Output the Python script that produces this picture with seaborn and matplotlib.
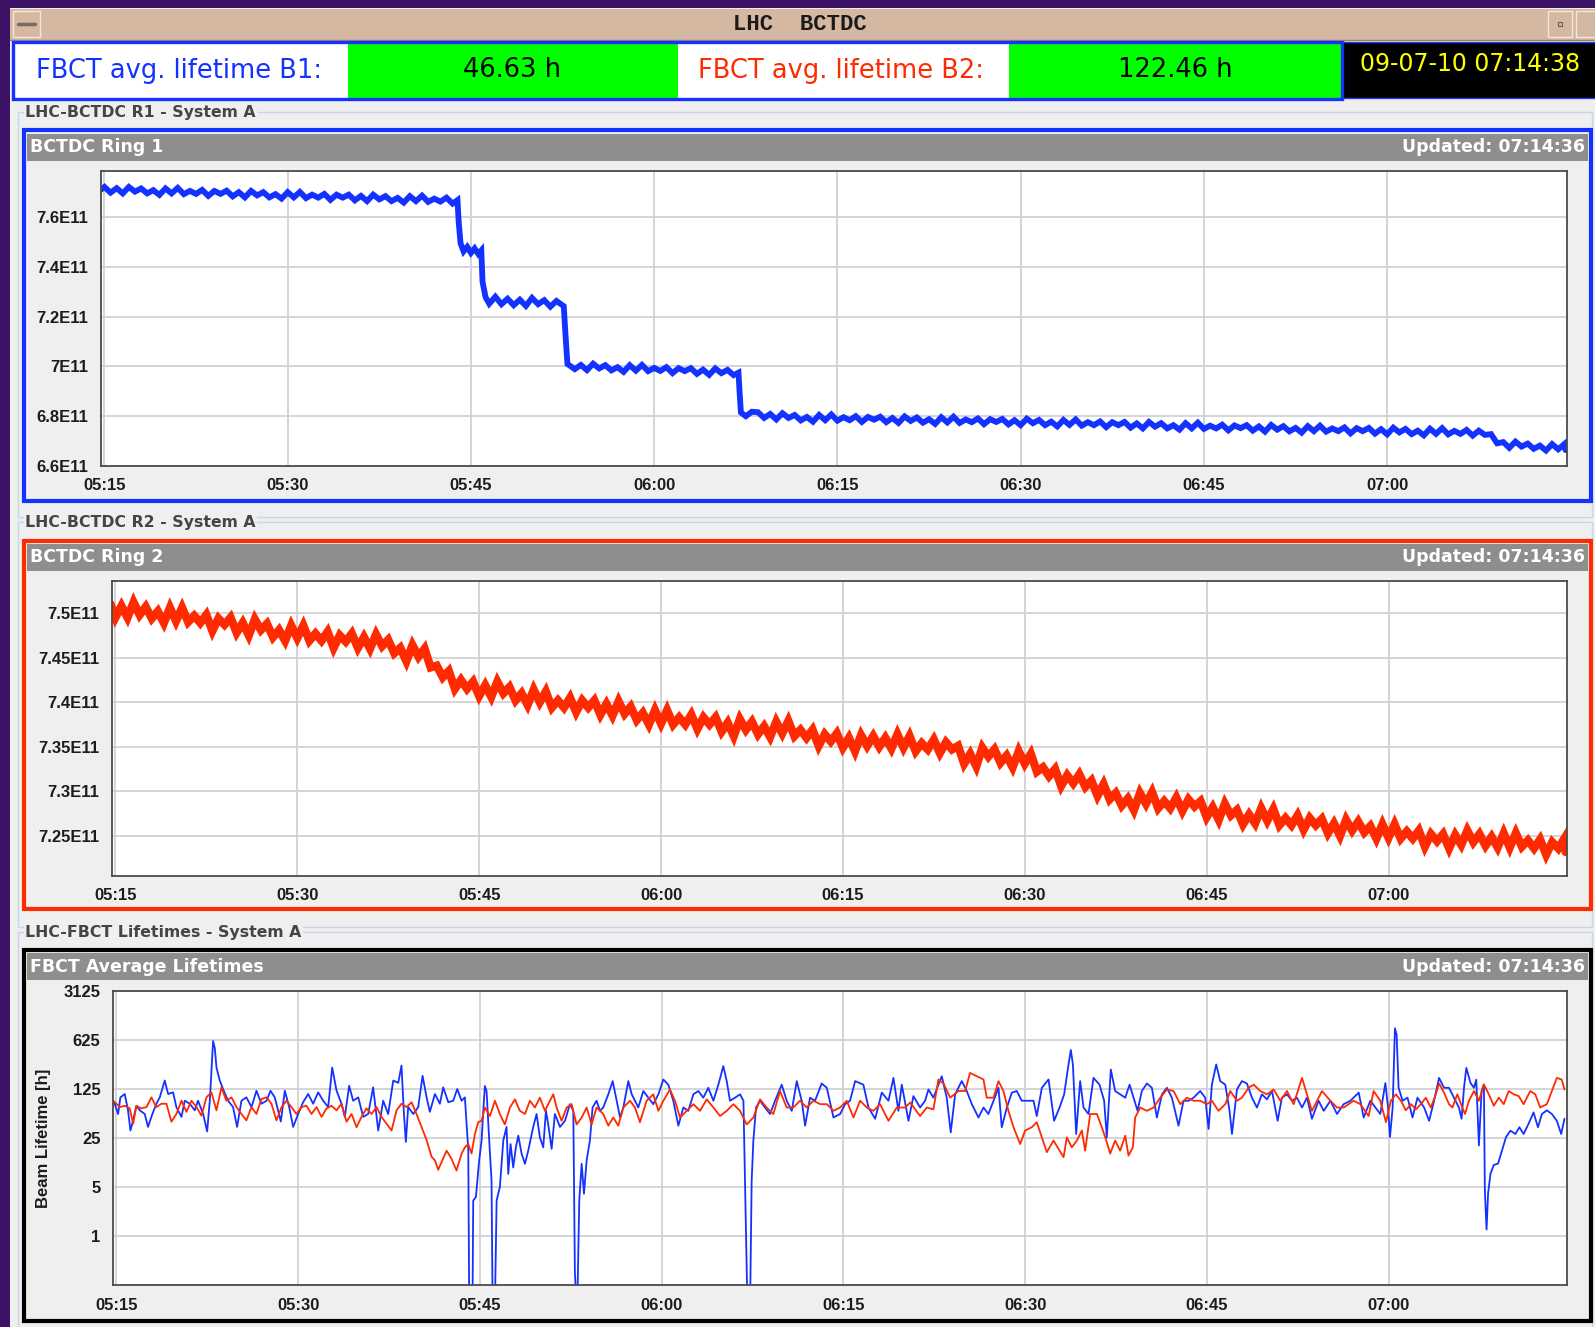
import matplotlib
matplotlib.use("Agg")
import matplotlib.pyplot as plt
from matplotlib.patches import Rectangle
from matplotlib.lines import Line2D
from matplotlib.ticker import FixedLocator, LogLocator, NullFormatter
import pandas as pd
import seaborn as sns

# ---------------------------------------------------------------- data
# time axis: minutes after 05:15
tick_minutes = [0, 15, 30, 45, 60, 75, 90, 105]
tick_labels = ["05:15", "05:30", "05:45", "06:00", "06:15", "06:30", "06:45", "07:00"]

# Ring 1 DC beam current, in units of 1E11 charges: (minute, value)
ring1_points = [
    (-0.4, 7.706), (0, 7.721), (0.5, 7.698), (1, 7.716), (1.5, 7.695), (2, 7.721), (2.5, 7.702),
    (3, 7.715), (3.5, 7.695), (4, 7.708), (4.5, 7.689), (5, 7.715), (5.5, 7.695), (6, 7.717),
    (6.5, 7.692), (7, 7.705), (7.5, 7.693), (8, 7.709), (8.5, 7.685), (9, 7.705), (9.5, 7.693),
    (10, 7.706), (10.5, 7.683), (11, 7.700), (11.5, 7.679), (12, 7.705), (12.5, 7.687),
    (13, 7.700), (13.5, 7.679), (14, 7.692), (14.5, 7.674), (15, 7.700), (15.5, 7.679),
    (16, 7.701), (16.5, 7.676), (17, 7.690), (17.5, 7.678), (18, 7.693), (18.5, 7.669),
    (19, 7.690), (19.5, 7.678), (20, 7.690), (20.5, 7.667), (21, 7.685), (21.5, 7.664),
    (22, 7.690), (22.5, 7.671), (23, 7.684), (23.5, 7.664), (24, 7.677), (24.5, 7.658),
    (25, 7.684), (25.5, 7.664), (26, 7.686), (26.5, 7.661), (27, 7.674), (27.5, 7.662),
    (28, 7.678), (28.5, 7.654), (28.9, 7.668), (29.0, 7.58), (29.15, 7.495), (29.4, 7.462),
    (29.7, 7.480), (30.0, 7.456), (30.3, 7.474), (30.6, 7.452), (30.85, 7.466), (30.95, 7.34),
    (31.2, 7.278), (31.5, 7.252), (32, 7.280), (32.5, 7.250), (33, 7.272), (33.5, 7.246),
    (34, 7.268), (34.5, 7.243), (35, 7.275), (35.5, 7.250), (36, 7.266), (36.5, 7.240),
    (37, 7.263), (37.6, 7.242), (37.75, 7.12), (37.9, 7.010), (38.5, 6.989), (39, 7.006),
    (39.5, 6.985), (40, 7.011), (40.5, 6.992), (41, 7.005), (41.5, 6.984), (42, 6.997),
    (42.5, 6.978), (43, 7.005), (43.5, 6.983), (44, 7.006), (44.5, 6.981), (45, 6.994),
    (45.5, 6.982), (46, 6.997), (46.5, 6.973), (47, 6.993), (47.5, 6.981), (48, 6.993),
    (48.5, 6.970), (49, 6.987), (49.5, 6.966), (50, 6.992), (50.5, 6.973), (51, 6.986),
    (51.5, 6.965), (51.9, 6.975), (52.0, 6.89), (52.1, 6.815), (52.5, 6.800), (53, 6.818),
    (53.5, 6.816), (54, 6.793), (54.5, 6.809), (55, 6.787), (55.5, 6.812), (56, 6.793),
    (56.5, 6.805), (57, 6.783), (57.5, 6.797), (58, 6.778), (58.5, 6.805), (59, 6.784),
    (59.5, 6.807), (60, 6.782), (60.5, 6.796), (61, 6.784), (61.5, 6.800), (62, 6.777),
    (62.5, 6.797), (63, 6.786), (63.5, 6.798), (64, 6.776), (64.5, 6.793), (65, 6.773),
    (65.5, 6.799), (66, 6.781), (66.5, 6.795), (67, 6.774), (67.5, 6.788), (68, 6.769),
    (68.5, 6.796), (69, 6.775), (69.5, 6.798), (70, 6.773), (70.5, 6.787), (71, 6.776),
    (71.5, 6.791), (72, 6.768), (72.5, 6.788), (73, 6.777), (73.5, 6.789), (74, 6.767),
    (74.5, 6.784), (75, 6.764), (75.5, 6.790), (76, 6.772), (76.5, 6.785), (77, 6.764),
    (77.5, 6.778), (78, 6.759), (78.5, 6.785), (79, 6.765), (79.5, 6.787), (80, 6.762),
    (80.5, 6.776), (81, 6.764), (81.5, 6.779), (82, 6.756), (82.5, 6.776), (83, 6.764),
    (83.5, 6.777), (84, 6.754), (84.5, 6.771), (85, 6.751), (85.5, 6.777), (86, 6.758),
    (86.5, 6.772), (87, 6.751), (87.5, 6.764), (88, 6.746), (88.5, 6.772), (89, 6.751),
    (89.5, 6.774), (90, 6.749), (90.5, 6.762), (91, 6.751), (91.5, 6.766), (92, 6.743),
    (92.5, 6.763), (93, 6.752), (93.5, 6.764), (94, 6.742), (94.5, 6.759), (95, 6.738),
    (95.5, 6.765), (96, 6.746), (96.5, 6.760), (97, 6.739), (97.5, 6.753), (98, 6.734),
    (98.5, 6.760), (99, 6.740), (99.5, 6.762), (100, 6.738), (100.5, 6.751), (101, 6.740),
    (101.5, 6.755), (102, 6.731), (102.5, 6.752), (103, 6.740), (103.5, 6.753), (104, 6.730),
    (104.5, 6.748), (105, 6.727), (105.5, 6.754), (106, 6.735), (106.5, 6.749), (107, 6.728),
    (107.5, 6.742), (108, 6.723), (108.5, 6.750), (109, 6.729), (109.5, 6.752), (110, 6.727),
    (110.5, 6.741), (111, 6.729), (111.5, 6.745), (112, 6.722), (112.5, 6.742), (113, 6.725),
    (113.5, 6.728), (114, 6.691), (114.5, 6.696), (115, 6.673), (115.5, 6.698), (116, 6.678),
    (116.5, 6.690), (117, 6.669), (117.5, 6.682), (118, 6.662), (118.5, 6.688), (119, 6.667),
    (119.5, 6.688), (119.6, 6.664),
]
ring1_ticks = [6.6, 6.8, 7.0, 7.2, 7.4, 7.6]

# Ring 2 DC beam current, in units of 1E11 charges (one reading every half minute)
ring2_minutes = [-0.4] + [k / 2 for k in range(240)] + [119.6]
ring2_e11 = [
    7.510,
    7.495, 7.508, 7.495, 7.512, 7.498, 7.507, 7.494, 7.502, 7.489, 7.506,
    7.491, 7.506, 7.490, 7.497, 7.489, 7.498, 7.480, 7.494, 7.487, 7.495,
    7.478, 7.489, 7.475, 7.493, 7.481, 7.488, 7.473, 7.481, 7.469, 7.486,
    7.472, 7.486, 7.469, 7.477, 7.469, 7.479, 7.461, 7.475, 7.468, 7.477,
    7.461, 7.473, 7.460, 7.476, 7.463, 7.470, 7.455, 7.461, 7.446, 7.464,
    7.451, 7.460, 7.439, 7.441, 7.428, 7.435, 7.415, 7.425, 7.415, 7.423,
    7.407, 7.419, 7.406, 7.423, 7.410, 7.417, 7.402, 7.410, 7.397, 7.414,
    7.400, 7.412, 7.394, 7.402, 7.394, 7.405, 7.389, 7.402, 7.394, 7.402,
    7.386, 7.398, 7.385, 7.401, 7.387, 7.395, 7.380, 7.388, 7.375, 7.391,
    7.376, 7.391, 7.375, 7.383, 7.375, 7.386, 7.370, 7.383, 7.375, 7.383,
    7.367, 7.377, 7.362, 7.381, 7.369, 7.378, 7.364, 7.373, 7.361, 7.378,
    7.365, 7.379, 7.362, 7.369, 7.360, 7.369, 7.351, 7.364, 7.356, 7.365,
    7.349, 7.360, 7.345, 7.363, 7.351, 7.362, 7.350, 7.360, 7.348, 7.364,
    7.349, 7.362, 7.345, 7.354, 7.347, 7.358, 7.343, 7.355, 7.347, 7.351,
    7.331, 7.342, 7.328, 7.349, 7.339, 7.347, 7.332, 7.340, 7.327, 7.345,
    7.331, 7.342, 7.322, 7.327, 7.317, 7.325, 7.306, 7.318, 7.309, 7.319,
    7.305, 7.312, 7.295, 7.308, 7.291, 7.298, 7.284, 7.292, 7.279, 7.298,
    7.286, 7.299, 7.281, 7.289, 7.281, 7.293, 7.278, 7.291, 7.283, 7.289,
    7.271, 7.282, 7.268, 7.286, 7.273, 7.279, 7.263, 7.274, 7.264, 7.281,
    7.267, 7.280, 7.262, 7.270, 7.262, 7.273, 7.257, 7.270, 7.262, 7.269,
    7.253, 7.264, 7.250, 7.268, 7.256, 7.266, 7.254, 7.261, 7.247, 7.263,
    7.248, 7.263, 7.247, 7.255, 7.247, 7.256, 7.238, 7.252, 7.244, 7.252,
    7.236, 7.251, 7.240, 7.256, 7.243, 7.252, 7.239, 7.249, 7.237, 7.253,
    7.237, 7.253, 7.238, 7.245, 7.236, 7.246, 7.229, 7.243, 7.236, 7.247,
    7.232,
]
ring2_ticks = [7.25, 7.30, 7.35, 7.40, 7.45, 7.50]

# FBCT average lifetimes in hours: (minute, hours)
b1_points = [
    (-0.28, 86), (-0.14, 77), (0.14, 55), (0.33, 95), (0.69, 106), (0.96, 62), (1.16, 32),
    (1.38, 45), (1.65, 72), (1.93, 62), (2.34, 55), (2.61, 36), (2.97, 55), (3.30, 77),
    (3.58, 95), (3.99, 165), (4.27, 106), (4.68, 112), (4.95, 69), (5.37, 50), (5.64, 85),
    (6.06, 77), (6.47, 62), (6.74, 85), (7.16, 55), (7.49, 31), (7.71, 85), (7.98, 605),
    (8.12, 480), (8.26, 253), (8.53, 165), (8.86, 118), (9.22, 85), (9.63, 69), (9.96, 36),
    (10.32, 85), (10.73, 95), (11.15, 69), (11.56, 118), (11.97, 77), (12.39, 85), (12.72, 118),
    (13.07, 95), (13.57, 43), (13.90, 118), (14.26, 69), (14.59, 36), (15.00, 55), (15.41, 81),
    (15.83, 106), (16.24, 77), (16.65, 112), (17.07, 85), (17.48, 69), (17.81, 253), (18.17, 118),
    (18.58, 77), (18.85, 50), (19.21, 139), (19.54, 85), (19.96, 95), (20.37, 50), (20.78, 55),
    (21.19, 132), (21.61, 32), (22.02, 85), (22.43, 55), (22.85, 165), (23.26, 153), (23.53, 270),
    (23.73, 55), (23.89, 22), (24.08, 69), (24.50, 55), (24.91, 69), (25.27, 193), (25.60, 95),
    (25.87, 59), (26.29, 106), (26.70, 77), (26.97, 132), (27.39, 81), (27.80, 85), (28.13, 125),
    (28.49, 85), (28.76, 95), (29.04, 17), (29.12, 0.1), (29.39, 0.1), (29.45, 3.2), (29.67, 3.6),
    (29.94, 12), (30.14, 23), (30.28, 61), (30.41, 138), (30.55, 117), (30.77, 23), (30.96, 6.2),
    (31.05, 0.1), (31.24, 0.1), (31.38, 3.2), (31.65, 5), (31.93, 23), (32.20, 36), (32.34, 7.7),
    (32.53, 20.5), (32.75, 9.5), (32.97, 18.4), (33.17, 27), (33.44, 15), (33.72, 10.7),
    (33.99, 16.5), (34.40, 36), (34.68, 55), (34.95, 25.5), (35.23, 18.4), (35.45, 61), (35.64, 39),
    (35.92, 17.5), (36.19, 55), (36.61, 36), (37.02, 44), (37.43, 76), (37.71, 61), (37.84, 0.3),
    (37.98, 0.1), (38.04, 0.1), (38.20, 3.2), (38.40, 10.7), (38.59, 4.0), (38.81, 12), (39.08, 23),
    (39.30, 68), (39.63, 85), (39.91, 61), (40.18, 68), (40.60, 105), (40.96, 162), (41.29, 85),
    (41.57, 49), (41.84, 68), (42.25, 162), (42.53, 105), (42.80, 85), (43.07, 68), (43.49, 117),
    (43.90, 94), (44.31, 76), (44.73, 105), (45.14, 171), (45.55, 144), (45.96, 85), (46.38, 37.5),
    (46.79, 68), (47.20, 61), (47.62, 105), (48.03, 117), (48.44, 94), (48.85, 130), (49.27, 85),
    (49.68, 144), (50.09, 265), (50.37, 162), (50.64, 85), (51.06, 94), (51.47, 105), (51.75, 85),
    (51.91, 3.2), (52.08, 0.1), (52.30, 0.1), (52.43, 6.2), (52.57, 23), (52.79, 68), (53.12, 85),
    (53.53, 68), (53.95, 55), (54.36, 85), (54.91, 144), (55.32, 85), (55.74, 61), (56.15, 162),
    (56.56, 85), (56.84, 37.5), (57.25, 94), (57.66, 85), (58.21, 150), (58.63, 130), (59.18, 49),
    (59.73, 55), (60.14, 76), (60.55, 85), (60.97, 162), (61.65, 144), (62.07, 68), (62.62, 47),
    (63.17, 111), (63.72, 85), (64.13, 180), (64.54, 61), (64.82, 144), (65.37, 44), (65.78, 99),
    (66.33, 68), (66.74, 85), (67.02, 123), (67.43, 94), (67.84, 144), (68.12, 190), (68.53, 94),
    (68.86, 30), (69.22, 105), (69.77, 162), (70.18, 117), (70.60, 76), (71.15, 49), (71.56, 68),
    (71.97, 55), (72.39, 85), (72.80, 130), (73.07, 35.6), (73.49, 68), (73.90, 111), (74.31, 117),
    (74.72, 85), (75.14, 85), (75.69, 85), (75.96, 51.5), (76.38, 130), (76.93, 171), (77.39, 44),
    (77.84, 68), (78.22, 105), (78.58, 280), (78.77, 450), (78.94, 280), (79.21, 28.5),
    (79.54, 162), (79.82, 68), (80.23, 55), (80.64, 180), (81.14, 144), (81.52, 85), (81.74, 25.5),
    (82.07, 237), (82.43, 117), (82.84, 105), (83.26, 94), (83.62, 144), (83.95, 94), (84.28, 61),
    (84.63, 117), (85.05, 150), (85.46, 130), (85.87, 49), (86.29, 105), (86.70, 130), (87.11, 94),
    (87.66, 37.5), (88.07, 85), (88.49, 85), (88.90, 94), (89.45, 117), (89.86, 94), (90.14, 33.6),
    (90.41, 144), (90.77, 280), (91.10, 162), (91.52, 144), (91.87, 61), (92.07, 28.5),
    (92.48, 123), (92.89, 162), (93.30, 150), (93.72, 94), (94.13, 68), (94.54, 105), (94.96, 89),
    (95.37, 117), (95.84, 44), (96.19, 94), (96.61, 105), (97.02, 85), (97.43, 94), (97.85, 68),
    (98.26, 94), (98.67, 47), (99.22, 85), (99.64, 61), (100.19, 85), (100.74, 55), (101.29, 76),
    (101.84, 85), (102.53, 111), (102.94, 49), (103.49, 85), (104.31, 55), (104.73, 152),
    (104.95, 68), (105.11, 25.8), (105.33, 68), (105.52, 920), (105.66, 735), (105.82, 130),
    (106.15, 85), (106.56, 94), (106.97, 49), (107.38, 94), (107.93, 68), (108.34, 44),
    (108.75, 85), (109.16, 180), (109.57, 130), (109.98, 130), (110.39, 94), (110.80, 68),
    (111.02, 47), (111.22, 130), (111.41, 250), (111.76, 152), (112.04, 130), (112.23, 170),
    (112.45, 19.6), (112.67, 117), (112.86, 145), (112.94, 4.5), (113.08, 1.24), (113.21, 4.1),
    (113.41, 7.8), (113.68, 10.3), (114.03, 10.8), (114.36, 16.7), (114.69, 25.8), (115.05, 31.8),
    (115.46, 28.5), (115.79, 35.6), (116.14, 28.5), (116.55, 40), (116.96, 58), (117.32, 35.6),
    (117.65, 55), (118.06, 62), (118.47, 55), (118.88, 44), (119.24, 28.5), (119.51, 47),
]
b2_points = [
    (-0.28, 85), (0.00, 77), (0.28, 69), (0.69, 72), (1.10, 66), (1.38, 40), (1.65, 72),
    (2.06, 66), (2.48, 69), (2.89, 95), (3.30, 69), (3.72, 77), (4.13, 77), (4.54, 42.6),
    (4.95, 55), (5.37, 85), (5.78, 59), (6.19, 85), (6.61, 69), (7.02, 52), (7.43, 95),
    (7.84, 112), (8.26, 62), (8.67, 132), (9.08, 85), (9.50, 95), (9.91, 69), (10.32, 55),
    (10.73, 44.6), (11.15, 69), (11.56, 55), (11.97, 90), (12.39, 95), (12.80, 77), (13.21, 44.6),
    (13.63, 69), (14.04, 85), (14.45, 69), (14.86, 55), (15.28, 69), (15.69, 72), (16.10, 55),
    (16.52, 69), (16.93, 50), (17.34, 66), (17.75, 72), (18.17, 62), (18.58, 77), (18.99, 42.6),
    (19.41, 55), (19.82, 35.6), (20.23, 50), (20.64, 66), (21.06, 55), (21.47, 69), (21.88, 50),
    (22.30, 40), (22.71, 32), (23.12, 62), (23.53, 77), (23.95, 69), (24.36, 81), (24.77, 55),
    (25.19, 35.6), (25.60, 23.4), (26.01, 13.5), (26.29, 12), (26.56, 8.8), (27.25, 16.5),
    (27.66, 12.6), (28.07, 8.6), (28.49, 15), (28.76, 18.4), (29.04, 20.5), (29.31, 15),
    (29.59, 28.5), (29.86, 42), (30.14, 44), (30.41, 68), (30.83, 51.5), (31.24, 85), (31.65, 55),
    (32.06, 39), (32.48, 68), (32.89, 89), (33.30, 61), (33.72, 55), (34.13, 85), (34.54, 68),
    (34.95, 94), (35.37, 61), (35.78, 85), (36.06, 105), (36.33, 68), (36.74, 44), (37.16, 68),
    (37.57, 76), (37.98, 39), (38.40, 49), (38.81, 68), (39.22, 39), (39.63, 68), (40.18, 55),
    (40.60, 37.5), (41.01, 49), (41.42, 37.5), (41.84, 68), (42.39, 85), (42.80, 68), (43.21, 42),
    (43.76, 85), (44.31, 105), (44.73, 61), (45.14, 85), (45.69, 123), (46.10, 85), (46.52, 49),
    (47.07, 61), (47.62, 76), (48.17, 61), (48.72, 89), (49.27, 68), (49.82, 51.5), (50.37, 61),
    (50.92, 76), (51.47, 61), (52.02, 39), (52.57, 49), (53.12, 89), (53.67, 68), (54.22, 55),
    (54.77, 117), (55.32, 68), (55.87, 68), (56.42, 85), (56.97, 68), (57.53, 85), (58.08, 76),
    (58.63, 76), (59.18, 61), (59.73, 68), (60.28, 85), (60.83, 49), (61.38, 85), (61.93, 68),
    (62.48, 61), (63.03, 76), (63.72, 44), (64.41, 68), (65.09, 68), (65.51, 80), (66.33, 51.5),
    (66.88, 68), (67.43, 64), (67.84, 171), (68.26, 150), (68.81, 94), (69.49, 117), (70.05, 117),
    (70.45, 212), (71.01, 190), (71.56, 171), (71.83, 94), (72.39, 94), (72.80, 162), (73.21, 117),
    (73.62, 61), (74.04, 35.6), (74.59, 20.5), (75.00, 32), (75.55, 35.6), (75.96, 42),
    (76.38, 25.5), (76.79, 15.7), (77.34, 23), (77.75, 17.5), (78.17, 13.3), (78.44, 25.5),
    (78.85, 18.4), (79.27, 23), (79.68, 32), (79.95, 16.5), (80.37, 55), (80.92, 55), (81.33, 35.6),
    (81.61, 25.5), (82.02, 15), (82.43, 23), (82.84, 16.5), (83.26, 27), (83.53, 14), (83.89, 18.4),
    (84.08, 49), (84.50, 68), (85.05, 61), (85.60, 68), (86.15, 94), (86.70, 123), (87.25, 117),
    (87.80, 76), (88.35, 94), (88.90, 85), (89.45, 85), (90.00, 76), (90.41, 85), (90.96, 61),
    (91.52, 76), (91.93, 117), (92.48, 85), (92.89, 94), (93.44, 130), (93.86, 144), (94.41, 117),
    (94.96, 105), (95.51, 123), (96.06, 85), (96.61, 117), (97.16, 76), (97.85, 180), (98.26, 105),
    (98.67, 61), (99.50, 117), (100.19, 85), (100.74, 68), (101.29, 68), (102.11, 85), (102.66, 76),
    (103.35, 51.5), (103.76, 117), (104.31, 85), (104.78, 42), (105.19, 85), (105.60, 105),
    (106.01, 85), (106.42, 62), (106.84, 76), (107.25, 64), (107.66, 76), (108.07, 94),
    (108.48, 68), (108.89, 105), (109.16, 150), (109.57, 111), (109.98, 76), (110.26, 68),
    (110.67, 105), (111.08, 68), (111.30, 55), (111.63, 85), (112.04, 117), (112.45, 85),
    (112.86, 145), (113.27, 105), (113.68, 72), (114.09, 94), (114.50, 76), (114.91, 117),
    (115.32, 105), (115.73, 99), (116.14, 76), (116.69, 117), (117.10, 105), (117.51, 68),
    (118.06, 76), (118.47, 117), (118.88, 180), (119.29, 170), (119.51, 123),
]
lifetime_ticks = [1, 5, 25, 125, 625, 3125]

header_b1_label = "FBCT avg. lifetime B1:"
header_b1_value = "46.63 h"
header_b2_label = "FBCT avg. lifetime B2:"
header_b2_value = "122.46 h"
header_clock = "09-07-10 07:14:38"
updated_text = "Updated: 07:14:36"

# ---------------------------------------------------------------- style
sns.set_theme(style="white")
plt.rcParams['font.family'] = ['Liberation Sans', 'DejaVu Sans']

W, H = 1595, 1327
BG = '#efefef'
BLUE = '#1432ff'
RED = '#ff2a00'
BAR = '#8e8e8e'
SYS_LINE = '#c4d6e8'

fig = plt.figure(figsize=(W / 100, H / 100), dpi=100)
fig.patch.set_facecolor('#3d1166')


def rect(x0, y0, x1, y1, fc='none', ec='none', lw=0.0, z=-1):
    fig.add_artist(Rectangle((x0 / W, 1 - y1 / H), (x1 - x0) / W, (y1 - y0) / H,
                             transform=fig.transFigure, facecolor=fc, edgecolor=ec,
                             linewidth=lw, zorder=z))


def hline(x0, x1, y, color, lw=1.0, z=-0.5):
    fig.add_artist(Line2D([x0 / W, x1 / W], [1 - y / H, 1 - y / H],
                          transform=fig.transFigure, color=color, lw=lw, zorder=z))


def label(x, y, s, **kw):
    return fig.text(x / W, 1 - y / H, s, **kw)


def add_axes(x0, y0, x1, y1):
    return fig.add_axes([x0 / W, 1 - y1 / H, (x1 - x0) / W, (y1 - y0) / H])


# window body and title bar
rect(10, 8, W, H, fc=BG)
rect(10, 9, W, 40, fc='#d4b8a2')
hline(10, W, 39.5, '#9c8470', lw=1)
rect(13, 11, 40, 37, fc='#d4b8a2', ec='#f3e6da', lw=1)
hline(18, 35, 24, '#7a6a5c', lw=2.5, z=1)
rect(1548, 11, 1572, 37, fc='#d4b8a2', ec='#f3e6da', lw=1)
rect(1558, 22, 1562, 26, fc='#d4b8a2', ec='#6c5c50', lw=0.8, z=1)
rect(1576, 11, 1600, 37, fc='#d4b8a2', ec='#f3e6da', lw=1)
label(800, 24, "LHC  BCTDC", family='Liberation Mono', weight='bold', fontsize=16,
      color='#1a1a1a', ha='center', va='center')

# header row with lifetime read-outs and clock
rect(15, 42, 348, 98, fc='white')
rect(348, 42, 678, 98, fc='#00ff00')
rect(678, 42, 1009, 98, fc='white')
rect(1009, 42, 1341, 98, fc='#00ff00')
rect(1342, 42, W + 2, 98, fc='black', ec='#2040ff', lw=1)
rect(13, 41.5, 1342, 98.5, ec=BLUE, lw=2.4, z=-0.5)
hdr = dict(family='DejaVu Sans', fontsize=18.5, va='center', ha='center')
label(179, 71, header_b1_label, color=BLUE, **hdr)
label(512, 70, header_b1_value, color='black', **hdr)
label(841, 71, header_b2_label, color=RED, **hdr)
label(1175, 70, header_b2_value, color='black', **hdr)
label(1470, 64, header_clock, color='#ffff00', family='DejaVu Sans', fontsize=17,
      va='center', ha='center')

# ---------------------------------------------------------------- panels
panels = [
    dict(system="LHC-BCTDC R1 - System A", title="BCTDC Ring 1", frame=BLUE,
         sys_y=112, frame_y=(128, 503), bar_y=(134, 161), ax=(101, 171, 1567, 466)),
    dict(system="LHC-BCTDC R2 - System A", title="BCTDC Ring 2", frame=RED,
         sys_y=522, frame_y=(539, 911), bar_y=(544, 571), ax=(112, 581, 1567, 876)),
    dict(system="LHC-FBCT Lifetimes - System A", title="FBCT Average Lifetimes", frame='black',
         sys_y=932, frame_y=(948, 1323), bar_y=(953, 980), ax=(113, 991, 1567, 1285)),
]

axes = []
for i, p in enumerate(panels):
    top, bottom = p['frame_y']
    sys_bottom = panels[i + 1]['sys_y'] - 5 if i < 2 else H + 5
    rect(18, p['sys_y'], W - 3, sys_bottom, ec=SYS_LINE, lw=1, z=-0.8)
    label(25, p['sys_y'], p['system'], family='DejaVu Sans', weight='bold', fontsize=11.3,
          color='#454545', va='center', ha='left', bbox=dict(fc=BG, ec='none', pad=1.0))
    rect(24, top + 2, W - 4, bottom - 2, fc=BG, ec=p['frame'], lw=3.0, z=-0.7)
    rect(27, p['bar_y'][0], W - 7, p['bar_y'][1], fc=BAR, z=-0.6)
    bar_mid = (p['bar_y'][0] + p['bar_y'][1]) / 2
    label(30, bar_mid, p['title'], family='DejaVu Sans', weight='bold', fontsize=12.5,
          color='white', va='center', ha='left')
    label(1585, bar_mid, updated_text, family='DejaVu Sans', weight='bold', fontsize=12.5,
          color='white', va='center', ha='right')
    axes.append(add_axes(*p['ax']))

ax1, ax2, ax3 = axes

# ---------------------------------------------------------------- lines
# the ring currents are noisy: a wide, sharp-cornered stroke over the
# half-minute readings fills the jitter into a ragged band
r1_min, r1_val = map(list, zip(*ring1_points))
sns.lineplot(x=r1_min, y=r1_val, ax=ax1, color=BLUE, linewidth=4.2,
             solid_joinstyle='miter', estimator=None, sort=False)
sns.lineplot(x=ring2_minutes, y=ring2_e11, ax=ax2, color=RED, linewidth=6.0,
             solid_joinstyle='miter', estimator=None, sort=False)

b1_min, b1_hours = map(list, zip(*b1_points))
b2_min, b2_hours = map(list, zip(*b2_points))
life = pd.DataFrame({
    'minute': b1_min + b2_min,
    'hours': b1_hours + b2_hours,
    'beam': ['B1'] * len(b1_min) + ['B2'] * len(b2_min),
})
sns.lineplot(data=life, x='minute', y='hours', hue='beam', hue_order=['B1', 'B2'],
             palette={'B1': BLUE, 'B2': RED}, ax=ax3, linewidth=1.3,
             estimator=None, sort=False, legend=False)

# ---------------------------------------------------------------- axes styling
for ax in axes:
    ax.set_facecolor('white')
    ax.set_xlim(-0.28, 119.72)
    ax.set_xticks(tick_minutes)
    ax.set_xticklabels(tick_labels)
    ax.set_xlabel("")
    ax.set_ylabel("")
    ax.grid(True, which='major', color='#d2d2d2', linewidth=1.3)
    ax.set_axisbelow(True)
    for s in ax.spines.values():
        s.set_color('#4a4a4a')
        s.set_linewidth(1.3)
    ax.tick_params(axis='both', which='major', direction='out', length=5, width=1.2,
                   color='#444444', labelsize=12, labelcolor='#1c1c1c', pad=4)
    ax.tick_params(axis='both', which='minor', direction='out', length=3, width=1.0,
                   color='#444444')
    for t in ax.get_xticklabels() + ax.get_yticklabels():
        t.set_fontweight('bold')

ax1.set_ylim(6.6, 7.785)
ax1.set_yticks(ring1_ticks)
ax1.set_yticklabels([f"{v:g}E11" for v in ring1_ticks], fontweight='bold')

ax2.set_ylim(7.205, 7.536)
ax2.set_yticks(ring2_ticks)
ax2.set_yticklabels([f"{v:g}E11" for v in ring2_ticks], fontweight='bold')

ax3.set_yscale('log', base=5)
ax3.set_ylim(0.2, 3125)
ax3.yaxis.set_major_locator(FixedLocator(lifetime_ticks))
ax3.yaxis.set_minor_locator(LogLocator(base=5, subs=[2, 3, 4]))
ax3.yaxis.set_minor_formatter(NullFormatter())
ax3.set_yticklabels([str(v) for v in lifetime_ticks], fontweight='bold')
ax3.set_ylabel("Beam Lifetime [h]", fontsize=12, fontweight='bold', color='#1c1c1c',
               labelpad=9)

fig.savefig("out.png", dpi=100, facecolor=fig.get_facecolor())
